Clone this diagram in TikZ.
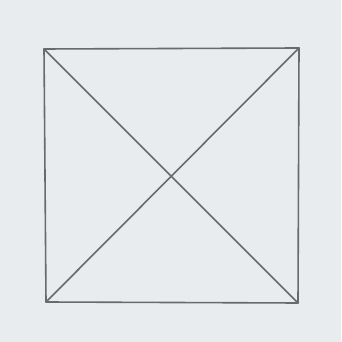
\documentclass[tikz,border=0pt]{standalone}
\definecolor{paper}{RGB}{233,236,238}
\definecolor{pencil}{RGB}{105,105,110}
\tikzset{edge/.style={draw=pencil,line width=1.6pt,line join=round,line cap=round}}
\begin{document}
\begin{tikzpicture}[x=1pt,y=1pt]
\fill[paper] (0,0) rectangle (341,342);
\useasboundingbox (0,0) rectangle (341,342);
\coordinate (tl) at (44,293);
\coordinate (tr) at (299,294);
\coordinate (br) at (298,39);
\coordinate (bl) at (46,40);
\draw[edge] (tl) -- (tr) -- (br) -- (bl) -- cycle;
\draw[edge] (tl) -- (br);
\draw[edge] (tr) -- (bl);
\end{tikzpicture}
\end{document}
